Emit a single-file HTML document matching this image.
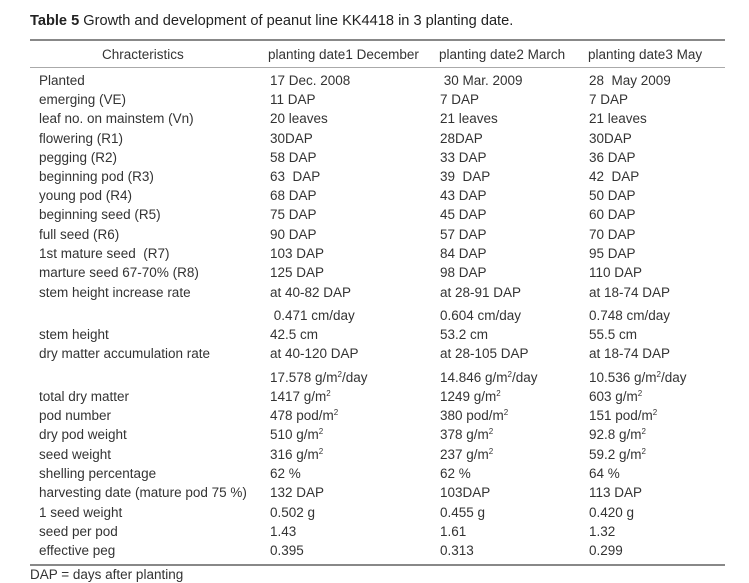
<!DOCTYPE html>
<html><head><meta charset="utf-8"><style>
body{margin:0;width:749px;height:582px;background:#fff;position:relative;overflow:hidden;font-family:"Liberation Sans",Arial,sans-serif;color:#333;font-size:13.5px}
.t{position:absolute;white-space:nowrap;line-height:16px}
.r{position:absolute;left:30px;width:695px;background:#888}
sup{font-size:8px;line-height:0;vertical-align:5px}
</style></head><body>
<div class="t" style="left:30px;top:13px;color:#222;font-size:14.6px"><b>Table 5</b> Growth and development of peanut line KK4418 in 3 planting date.</div>
<div class="r" style="top:39px;height:2px"></div>
<div class="t" style="left:102px;top:47px">Chracteristics</div>
<div class="t" style="left:268px;top:47px">planting date1 December</div>
<div class="t" style="left:439px;top:47px">planting date2 March</div>
<div class="t" style="left:588px;top:47px">planting date3 May</div>
<div class="r" style="top:67px;height:1px;background:#aaa"></div>
<div class="r" style="top:564px;height:2px"></div>
<div id="rows"></div>
<div class="t" style="left:30px;top:567px">DAP = days after planting</div>
<script>
var d=[
[81,"Planted","17 Dec. 2008","&nbsp;30 Mar. 2009","28&nbsp; May 2009"],
[100,"emerging (VE)","11 DAP","7 DAP","7 DAP"],
[119,"leaf no. on mainstem (Vn)","20 leaves","21 leaves","21 leaves"],
[139,"flowering (R1)","30DAP","28DAP","30DAP"],
[158,"pegging (R2)","58 DAP","33 DAP","36 DAP"],
[177,"beginning pod (R3)","63&nbsp; DAP","39&nbsp; DAP","42&nbsp; DAP"],
[196,"young pod (R4)","68 DAP","43 DAP","50 DAP"],
[215,"beginning seed (R5)","75 DAP","45 DAP","60 DAP"],
[235,"full seed (R6)","90 DAP","57 DAP","70 DAP"],
[254,"1st mature seed&nbsp; (R7)","103 DAP","84 DAP","95 DAP"],
[273,"marture seed 67-70% (R8)","125 DAP","98 DAP","110 DAP"],
[293,"stem height increase rate","at 40-82 DAP","at 28-91 DAP","at 18-74 DAP"],
[316,"","&nbsp;0.471 cm/day","0.604 cm/day","0.748 cm/day"],
[335,"stem height","42.5 cm","53.2 cm","55.5 cm"],
[354,"dry matter accumulation rate","at 40-120 DAP","at 28-105 DAP","at 18-74 DAP"],
[378,"","17.578 g/m<sup>2</sup>/day","14.846 g/m<sup>2</sup>/day","10.536 g/m<sup>2</sup>/day"],
[397,"total dry matter","1417 g/m<sup>2</sup>","1249 g/m<sup>2</sup>","603 g/m<sup>2</sup>"],
[416,"pod number","478 pod/m<sup>2</sup>","380 pod/m<sup>2</sup>","151 pod/m<sup>2</sup>"],
[435,"dry pod weight","510 g/m<sup>2</sup>","378 g/m<sup>2</sup>","92.8 g/m<sup>2</sup>"],
[455,"seed weight","316 g/m<sup>2</sup>","237 g/m<sup>2</sup>","59.2 g/m<sup>2</sup>"],
[474,"shelling percentage","62 %","62 %","64 %"],
[493,"harvesting date (mature pod 75 %)","132 DAP","103DAP","113 DAP"],
[513,"1 seed weight","0.502 g","0.455 g","0.420 g"],
[532,"seed per pod","1.43","1.61","1.32"],
[551,"effective peg","0.395","0.313","0.299"]];
var h="",x=[39,270,440,589];
d.forEach(function(r){for(var i=0;i<4;i++)if(r[i+1])h+='<div class="t" style="left:'+x[i]+'px;top:'+(r[0]-8)+'px">'+r[i+1]+'</div>';});
document.getElementById("rows").innerHTML=h;
</script>
</body></html>
